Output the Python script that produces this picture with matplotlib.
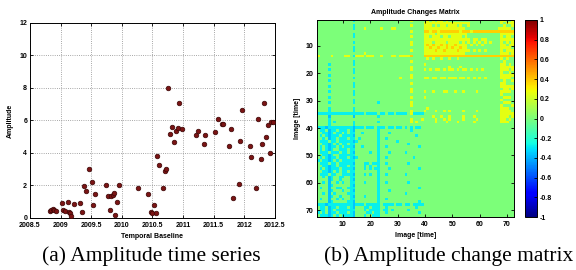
import numpy as np
import matplotlib
matplotlib.use("Agg")
import matplotlib.pyplot as plt

# --- (a) amplitude time series ---
years = [2008.82, 2008.85, 2008.87, 2008.89, 2008.92,
         2009.02, 2009.04, 2009.08, 2009.12, 2009.13, 2009.15, 2009.17, 2009.22,
         2009.32, 2009.35, 2009.38, 2009.41, 2009.47, 2009.51, 2009.53, 2009.57,
         2009.74, 2009.77, 2009.81, 2009.82, 2009.85, 2009.87, 2009.89, 2009.92, 2009.95,
         2010.26, 2010.43, 2010.47, 2010.49, 2010.52, 2010.56, 2010.58, 2010.61,
         2010.67, 2010.70, 2010.72, 2010.76, 2010.79, 2010.82, 2010.85, 2010.88,
         2010.92, 2010.94, 2010.98,
         2011.22, 2011.25, 2011.34, 2011.36, 2011.52, 2011.58, 2011.64, 2011.66,
         2011.75, 2011.78, 2011.82, 2011.91, 2011.94, 2011.97,
         2012.09, 2012.11, 2012.20, 2012.23, 2012.27, 2012.29, 2012.32, 2012.36,
         2012.39, 2012.42, 2012.44, 2012.47]
amps = [0.45, 0.48, 0.55, 0.50, 0.42,
        0.93, 0.50, 0.41, 1.00, 0.36, 0.33, 0.10, 0.84,
        0.90, 0.39, 1.95, 1.68, 3.02, 2.24, 0.80, 1.46,
        2.00, 1.35, 0.47, 1.35, 1.42, 1.52, 0.16, 1.00, 2.05,
        1.85, 1.46, 0.38, 0.28, 0.78, 0.33, 3.84, 3.24,
        1.85, 2.89, 3.04, 8.02, 5.19, 5.58, 4.66, 5.37,
        5.56, 7.08, 5.50,
        5.11, 5.33, 4.57, 5.13, 5.27, 6.07, 5.76, 5.80,
        4.41, 5.48, 1.21, 2.06, 4.76, 6.63,
        4.45, 3.75, 1.81, 6.07, 3.65, 4.55, 7.08, 4.96,
        5.74, 4.02, 5.91, 5.93]

x_ticks = [2008.5, 2009, 2009.5, 2010, 2010.5, 2011, 2011.5, 2012, 2012.5]
x_ticklabels = ["2008.5", "2009", "2009.5", "2010", "2010.5", "2011", "2011.5", "2012", "2012.5"]
y_ticks = [0, 2, 4, 6, 8, 10, 12]

# --- (b) change matrix, one string per row (72 x 72) ---
# '.' = 0, 'y' = yellow, 'o' = orange, 'c' = cyan, 'b' = deeper cyan
cell_levels = {".": 0.0, "y": 0.25, "o": 0.38, "c": -0.28, "b": -0.36}
matrix_rows = [
    ".......... ...c...... .......... ....y..... y.y.yy.y.. .......... .......yy. .y",
    ".......... .......... .......... .........y yyyyyyyyyy yyyyyy.... .......y.y yy",
    ".......... ...c...... .......... ....y....y yy.y.yy.yy y.y..y.... ........y. .y",
    ".......... ...c...y.. ...y...yy. .........y yyyyyyyyyy yyyy...... ......yyyy y.",
    ".......... .......... .......... ....y....o oyooyooooo ooyoooyooo oooooooooo oo",
    ".......... ...c...... .......... .........y yyy.yyyyyy yyyyy..... .......yyy yy",
    ".......... ...c...... .......... ....y....y y.yyy.yy.y yyy.y..... .......y.y y.",
    ".......... .......... .......... .........y yyyyyyyyyy yyyyyy.yy. yy.....yyy yy",
    ".......... ...c...... .......... ....y....y yy.yyyy.yy yy.y.y.y.y .y.y...y.y .y",
    ".......... .......... .......... ....y....y oyoyyoyoyy oyyyy.y.y. y......yy. yy",
    ".......... ...c...... .......... .........y yoyyoyyoyo yyoyy..... .......yyy y.",
    ".......... ...c...... .......... ....y....y yyyoyyoyyy yoyyyy.y.y .y.....y.y yy",
    ".......... .......y.. .......... .........y yyyyyyyyyy yyyy...... .......yyy .y",
    "y....y.... yy.cyyy.yy y..y...yy. yyyyo....o oooooooooo oooooooooo oooooooooo oo",
    ".......... .......... .......... .......... y.y..y..y. .y........ .......y.y ..",
    ".......... ...c...... .......... ....y..... .......... .......... ........y. ..",
    "....c..... ...c...... .......... .........y .......... .......... .......yy. y.",
    ".......... .......... .......... ....y..... ........y. ..y....... .......yyy yy",
    "....c..... ...c...... .......... ....y....y .y.yy.y.yy .y.yy.y.y. y......yyy .y",
    ".......... ...c...... .......... .......... .......... .......... .......y.. y.",
    "....c..... .......... .......... ....y..... .......... .......... .......yyy yy",
    ".......... ...c...... .......... y...y....y y.yy.yy.yy y.yy.y.y.y .y.....yyy y.",
    "....c..... .......... .......... .......... .......... .......... ........y. .y",
    ".......... ...c...... .......... ....y..... .......... .......... .......yy. ..",
    "....c..... ...c...... .......... .......... .......... .......... .......yyy yy",
    ".......... .......... .......... ....y..... .......... .......... ........yy .y",
    "....c..... ...c...... .......... ....y....y ..y...yy.. y..y....y. .......yyy y.",
    ".......... ...c...... .......... .......... .......... .......... .......y.. ..",
    "....c..... .......... .......... ....y....y .......... .......... ........yy y.",
    ".......... ...c...... .......... .......... .......... .......... .......y.. ..",
    "....c..... ...c...... ..c....... ....y..... .......... .......... ........yy y.",
    ".......... .......... .......... ....y..... .......... .......... .......y.. .y",
    "....c..... ...c...... .......... .......... y......... .......... .......yyy ..",
    "....c..... ...c...... .......... ....y....y ...y..y.y. ...y....y. .......yyy y.",
    "cccccccccc ccccccc.cc cc.cc.cc.c ccc.ycccc. .......... .......... .......yyy yy",
    "....b..... ...b...... ..c....... .......... ..y..y..y. ...y...y.. .......yyy .y",
    "....c..... .......... .......... ....y...y. ...y..y.y. ...y....y. .......yy. y.",
    "....c.c... ...c...... ..c....... ....y.y... ...y...y.. .y.....y.. .......yyy ..",
    "....c..... ...c...... .......... ..........",
    "cccbcccccc cccbccc.cc c.ccc.cc.c c.c.c.cc..",
    ".cc.bcc.cc c.cb...... ..c....... ....c.....",
    "..ccbc.cc. c.cc..c... ..c...c... ..........",
    ".c.cbccc.c cccb...... ..c....... ......c...",
    "..c.bcc.cc c.cc.c.... ..c..c.... ..........",
    ".ccc.cc.cc cccbc..... ..c......c ..........",
    "..ccbc.c.c c.cc...... ..c....... ...c......",
    ".c.cbcc.c. cccb..c... ..c..c.... .......c..",
    ".c.cbc..cc c.cc...... ..c....... ..........",
    ".ccc.ccc.c c.cb.....c ..c...c... ..c.......",
    "..ccbc..cc cccc...... ..c....... ..........",
    ".c.cbcc.cc c.cbc..... ..c..c.... .....c....",
    "c.ccbc.c.c cccc...... ..c....... ..........",
    ".ccc.cc.cc cccb...cc. ccc..c.... ...c......",
    "..ccbcc.cc c.cc...c.c ..c....... ..........",
    ".c.cbccc.c cccb...c.c .cc...c... .......c..",
    "..ccbc.c.c c.cc...... ..c....... ..........",
    ".ccc.cc..c cccb...c.c ..c..c.... ..c.......",
    "..c.bc..cc ..cc...... ..c....... ..........",
    "....bc..c. ..cb...... ..c....... ..........",
    "..c.b..c.c ..cc...c.. ..c..c.... ...c......",
    "....bc.... ..cb...... ..c....... ..........",
    ".c..b..cc. .ccc...... ..c....... .......c..",
    "....bc...c ..cb...... ..c...c... ..........",
    "..c.b.c... .ccc...... ..c....... ..c.......",
    "....bc..c. ..cb...c.. ..c....... ..........",
    ".c..b..c.c ..cc...... ..c..c.... ..........",
    "....bc.... .ccb...... ..c....... .......c..",
    "cccbcccccc cccbccc.cc ccc.cccc.c c.cc.cccc.",
    ".cc.bcc.cc c.cb...cc. ccc..c.... ......c...",
    ".cc.bc.ccc cccc...c.c ccc.cc.c.. ...c......",
    "c.c.bcc.cc c.cb....cc .cc..c.... .......c..",
    ".cccbc.c.c cccb...c.. ccc....... ..........",
]
n_images = 72
matrix = np.array([[cell_levels[ch] for ch in row.replace(" ", "").ljust(n_images, ".")[:n_images]]
                   for row in matrix_rows])

cbar_ticks = [-1, -0.8, -0.6, -0.4, -0.2, 0, 0.2, 0.4, 0.6, 0.8, 1]
cbar_ticklabels = ["-1", "-0.8", "-0.6", "-0.4", "-0.2", "0", "0.2", "0.4", "0.6", "0.8", "1"]
mat_ticks = [10, 20, 30, 40, 50, 60, 70]

small = dict(family="Liberation Sans", fontsize=5, fontweight="bold")


def style_ticks(ax):
    for lab in ax.get_xticklabels() + ax.get_yticklabels():
        lab.set_family("Liberation Sans")
        lab.set_fontsize(5)
        lab.set_fontweight("bold")


fig = plt.figure(figsize=(5.76, 2.70), dpi=100)

# left panel
ax1 = fig.add_axes([0.052, 0.193, 0.425, 0.722])
ax1.scatter(years, amps, s=11, c="#7a1414", edgecolors="#3a0505", linewidths=0.5, zorder=3)
ax1.set_xlim(2008.5, 2012.5)
ax1.set_ylim(0, 12)
ax1.set_xticks(x_ticks)
ax1.set_xticklabels(x_ticklabels)
ax1.set_yticks(y_ticks)
ax1.grid(True, linestyle=":", color="#8a8a8a", linewidth=0.6)
ax1.tick_params(axis="x", pad=3)
ax1.tick_params(direction="in", top=True, right=True, length=2.5, width=0.6)
ax1.tick_params(axis="y", pad=2)
style_ticks(ax1)
ax1.set_xlabel("Temporal Baseline", labelpad=3, **small)
ax1.set_ylabel("Amplitude", labelpad=4, **small)
for sp in ax1.spines.values():
    sp.set_linewidth(0.7)

# right panel
ax2 = fig.add_axes([0.550, 0.196, 0.342, 0.730])
im = ax2.imshow(matrix, cmap="jet", vmin=-1, vmax=1, aspect="auto",
                interpolation="nearest",
                extent=(0.5, n_images + 0.5, n_images + 0.5, 0.5))
ax2.set_xticks(mat_ticks)
ax2.set_yticks(mat_ticks)
ax2.tick_params(direction="in", top=True, right=True, length=2.5, width=0.6, pad=2.5)
style_ticks(ax2)
ax2.set_xlabel("Image [time]", labelpad=3, **small)
ax2.set_ylabel("Image [time]", labelpad=3, **small)
ax2.set_title("Amplitude Changes Matrix", pad=4, **small)
for sp in ax2.spines.values():
    sp.set_linewidth(0.7)

cax = fig.add_axes([0.911, 0.196, 0.021, 0.730])
cb = fig.colorbar(im, cax=cax)
cb.set_ticks(cbar_ticks)
cb.set_ticklabels(cbar_ticklabels)
cax.tick_params(direction="in", length=2, width=0.6, pad=2)
style_ticks(cax)
cb.outline.set_linewidth(0.7)

# captions
cap = dict(family="Liberation Serif", fontsize=15.5, ha="center", va="center")
fig.text(0.262, 0.052, "(a) Amplitude time series", **cap)
fig.text(0.779, 0.052, "(b) Amplitude change matrix", **cap)

fig.savefig("out.png", dpi=100)
